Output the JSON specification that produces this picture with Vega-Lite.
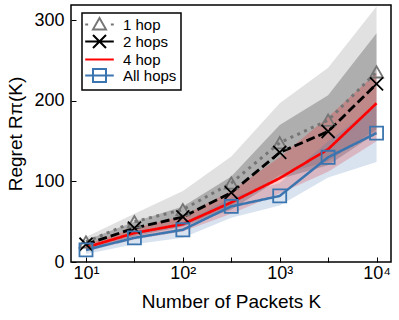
{
  "$schema": "https://vega.github.io/schema/vega-lite/v6.json",
  "width": 320,
  "height": 257,
  "autosize": {"type": "none"},
  "padding": {"left": 71, "top": 5, "right": 8, "bottom": 58},
  "background": "white",
  "config": {
    "view": {"stroke": "black", "strokeWidth": 1.5},
    "font": "Liberation Sans",
    "axis": {
      "grid": false,
      "domain": false,
      "labelFont": "Liberation Sans",
      "titleFont": "Liberation Sans",
      "labelFontSize": 18,
      "titleFontSize": 19,
      "titleFontWeight": "normal",
      "labelColor": "black",
      "titleColor": "black",
      "tickColor": "black",
      "tickWidth": 1,
      "tickSize": -5
    }
  },
  "data": {
    "values": [
      {"K": 10, "series": "1 hop", "mean": 25, "lo": 16, "hi": 31},
      {"K": 31.62, "series": "1 hop", "mean": 50, "lo": 34, "hi": 60},
      {"K": 100, "series": "1 hop", "mean": 65, "lo": 45, "hi": 88},
      {"K": 316.2, "series": "1 hop", "mean": 98, "lo": 70, "hi": 131},
      {"K": 1000, "series": "1 hop", "mean": 148, "lo": 108, "hi": 197},
      {"K": 3162, "series": "1 hop", "mean": 176, "lo": 125, "hi": 241},
      {"K": 10000, "series": "1 hop", "mean": 236, "lo": 165, "hi": 317},
      {"K": 10, "series": "2 hops", "mean": 22, "lo": 15, "hi": 27},
      {"K": 31.62, "series": "2 hops", "mean": 42, "lo": 32, "hi": 50},
      {"K": 100, "series": "2 hops", "mean": 56, "lo": 44, "hi": 69},
      {"K": 316.2, "series": "2 hops", "mean": 86, "lo": 65, "hi": 106},
      {"K": 1000, "series": "2 hops", "mean": 136, "lo": 103, "hi": 170},
      {"K": 3162, "series": "2 hops", "mean": 162, "lo": 120, "hi": 207},
      {"K": 10000, "series": "2 hops", "mean": 221, "lo": 160, "hi": 284},
      {"K": 10, "series": "4 hop", "mean": 18, "lo": 13, "hi": 22},
      {"K": 31.62, "series": "4 hop", "mean": 36, "lo": 28, "hi": 42},
      {"K": 100, "series": "4 hop", "mean": 47, "lo": 38, "hi": 57},
      {"K": 316.2, "series": "4 hop", "mean": 74, "lo": 60, "hi": 88},
      {"K": 1000, "series": "4 hop", "mean": 104, "lo": 85, "hi": 130},
      {"K": 3162, "series": "4 hop", "mean": 140, "lo": 112, "hi": 180},
      {"K": 10000, "series": "4 hop", "mean": 197, "lo": 150, "hi": 235},
      {"K": 10, "series": "All hops", "mean": 15, "lo": 10, "hi": 20},
      {"K": 31.62, "series": "All hops", "mean": 30, "lo": 22, "hi": 36},
      {"K": 100, "series": "All hops", "mean": 40, "lo": 30, "hi": 48},
      {"K": 316.2, "series": "All hops", "mean": 69, "lo": 55, "hi": 80},
      {"K": 1000, "series": "All hops", "mean": 82, "lo": 70, "hi": 98},
      {"K": 3162, "series": "All hops", "mean": 130, "lo": 105, "hi": 150},
      {"K": 10000, "series": "All hops", "mean": 160, "lo": 124, "hi": 195}
    ]
  },
  "encoding": {
    "x": {
      "field": "K",
      "type": "quantitative",
      "scale": {"type": "log", "domain": [7, 14100], "nice": false},
      "axis": {
        "title": "Number of Packets K",
        "values": [10, 31.62, 100, 316.2, 1000, 3162, 10000],
        "labelExpr": "datum.value == 10 ? '10¹' : datum.value == 100 ? '10²' : datum.value == 1000 ? '10³' : datum.value == 10000 ? '10⁴' : ''",
        "labelPadding": 7,
        "titlePadding": 10,
        "labelFlush": false,
        "labelOverlap": false
      }
    }
  },
  "layer": [
    {
      "mark": {"type": "area"},
      "encoding": {
        "y": {"field": "lo", "type": "quantitative"},
        "y2": {"field": "hi"},
        "fill": {
          "field": "series",
          "type": "nominal",
          "scale": {"range": ["#808080", "#000000", "#ff0000", "#3b75af"]},
          "legend": null
        },
        "fillOpacity": {
          "field": "series",
          "type": "nominal",
          "scale": {"range": [0.24, 0.2, 0.2, 0.22]},
          "legend": null
        }
      }
    },
    {
      "mark": {"type": "line", "strokeCap": "butt"},
      "encoding": {
        "y": {
          "field": "mean",
          "type": "quantitative",
          "scale": {"domain": [0, 319], "nice": false},
          "axis": {
            "title": "Regret Rπ(K)",
            "values": [0, 100, 200, 300],
            "labelPadding": 12,
            "titlePadding": 8
          }
        },
        "color": {
          "field": "series",
          "type": "nominal",
          "scale": {"domain": ["1 hop", "2 hops", "4 hop", "All hops"], "range": ["#757575", "#000000", "#ff0000", "#3b75af"]},
          "legend": {
            "title": null,
            "orient": "none",
            "legendX": 11,
            "legendY": 8,
            "padding": 4,
            "strokeColor": "black",
            "fillColor": "white",
            "labelFont": "Liberation Sans",
            "labelFontSize": 15,
            "labelColor": "black",
            "symbolSize": 169,
            "symbolOffset": 6,
            "labelOffset": 16,
            "rowPadding": -4.5,
            "symbolStrokeWidth": 2,
            "encode": {
              "legend": {"update": {"strokeWidth": {"value": 1.5}}},
              "symbols": {
                "update": {
                  "shape": {"signal": "datum.value === '1 hop' ? 'M-1,0.75L0,-1L1,0.75Z M-2.2,0H-1.75 M1.75,0H2.2' : datum.value === '2 hops' ? 'M-1,-1L1,1M-1,1L1,-1M-2.2,0H2.2' : datum.value === '4 hop' ? 'M-2.2,0H2.2' : 'M-1,-1H1V1H-1Z M-2.2,0H2.2'"},
                  "fill": {"value": "transparent"},
                  "strokeWidth": {"value": 2}
                }
              }
            }
          }
        },
        "strokeDash": {
          "field": "series",
          "type": "nominal",
          "scale": {"range": [[3, 4.5], [9, 4], [1, 0], [1, 0]]},
          "legend": null
        },
        "strokeWidth": {
          "field": "series",
          "type": "nominal",
          "scale": {"range": [3, 2.5, 2.5, 2.5]},
          "legend": null
        }
      }
    },
    {
      "transform": [{"filter": "datum.series !== '4 hop'"}],
      "mark": {"type": "point", "filled": false, "size": 170, "strokeWidth": 1.8, "opacity": 1},
      "encoding": {
        "y": {"field": "mean", "type": "quantitative"},
        "color": {"field": "series", "type": "nominal"},
        "shape": {
          "field": "series",
          "type": "nominal",
          "scale": {"range": ["triangle-up", "M-1,-1L1,1M-1,1L1,-1", "square"]},
          "legend": null
        }
      }
    }
  ]
}
